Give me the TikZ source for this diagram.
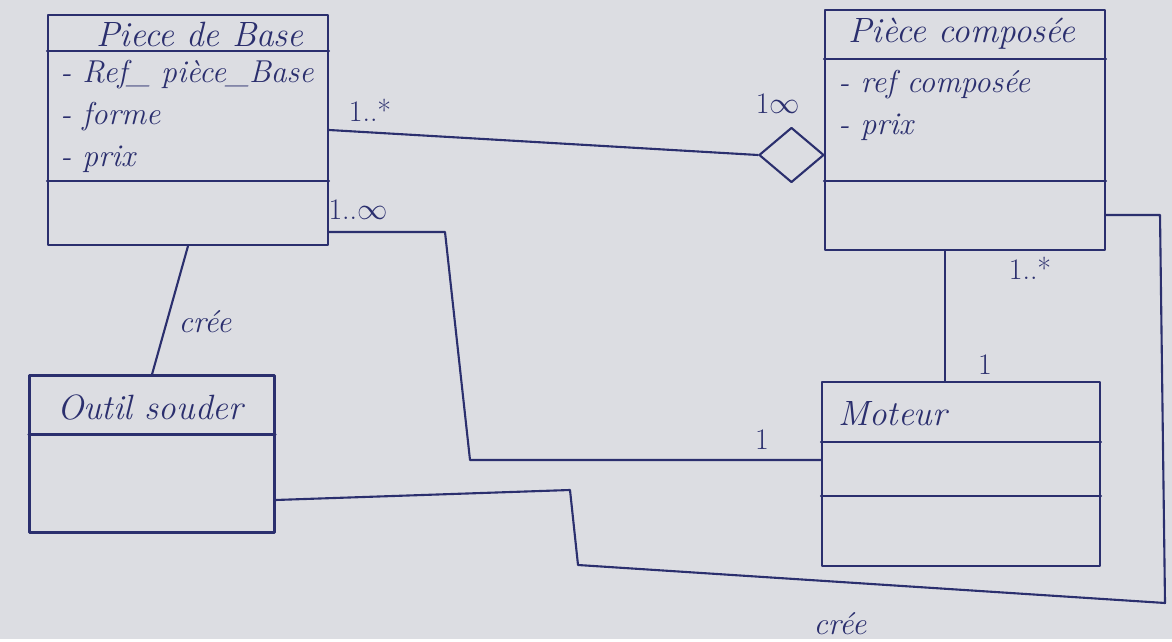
\documentclass[tikz,border=0pt]{standalone}
\usetikzlibrary{positioning,shapes.geometric,calc}
\definecolor{inkblue}{HTML}{2B2F6E}
\definecolor{paper}{HTML}{DCDDE2}

\begin{document}
\begin{tikzpicture}[
		x=0.02cm, y=-0.02cm,
		every node/.style={font=\itshape\fontsize{18}{24}\selectfont, text=inkblue},
		line/.style={draw=inkblue, line width=1.2pt, line cap=round, line join=round},
		classbox/.style={
			line,
			rectangle,
			inner sep=0pt
		},
		agg/.style={
			line,
			diamond,
			inner sep=0pt,
			minimum width=1.3cm,
			minimum height=1.1cm,
			fill=paper
		},
		title/.style={font=\itshape\fontsize{20}{24}\selectfont},
		attrs/.style={align=left, anchor=north west, inner sep=0pt},
		mult/.style={font=\fontsize{17}{20}\selectfont}
	]
		\fill[paper] (0,0) rectangle (1172,639);

		% classes
		\node[classbox, minimum width=5.6cm, minimum height=4.6cm] (base) at (188,130) {};
		\node[classbox, minimum width=5.6cm, minimum height=4.8cm] (composite) at (965,130) {};
		\node[classbox, minimum width=4.9cm, minimum height=3.14cm] (tool) at (152,454) {};
		\node[classbox, minimum width=5.56cm, minimum height=3.68cm] (engine) at (961,474) {};
		\coordinate (a0) at (825,155);
		\node[agg, anchor=east] (diamond) at (a0) {};

		% compartments
		\draw[line] ($(base.north west)+(0,37)$) -- ($(base.north east)+(0,37)$);
		\draw[line] ($(base.north west)+(0,167)$) -- ($(base.north east)+(0,167)$);
		\draw[line] ($(composite.north west)+(0,50)$) -- ($(composite.north east)+(0,50)$);
		\draw[line] ($(composite.north west)+(0,172)$) -- ($(composite.north east)+(0,172)$);
		\draw[line] ($(tool.north west)+(0,60)$) -- ($(tool.north east)+(0,60)$);
		\draw[line] ($(engine.north west)+(0,61)$) -- ($(engine.north east)+(0,61)$);
		\draw[line] ($(engine.north west)+(0,115)$) -- ($(engine.north east)+(0,115)$);

		% texts
		\node[title] (base-title) at (200,34) {Piece de Base};
		\node[attrs] (base-attrs) at (60,60)
			{- Ref\_ pièce\_Base\\- forme\\- prix};
		\node[title] (composite-title) at (962,34) {Pièce composée};
		\node[attrs] (composite-attrs) at (838,70)
			{- ref composée\\- prix};
		\node[title] (tool-title) at (150,408) {Outil souder};
		\node[title, anchor=west] (engine-title) at (832,414) {Moteur};

		% associations
		\draw[line] (base.east) -- (diamond.west);
		\coordinate (b1) at (445,232);
		\coordinate (b2) at (470,460);
		\draw[line] (base.east |- b1) -- (b1) -- (b2) -- (engine.west |- b2);
		\draw[line] (base.south) -- (tool.north);
		\coordinate (c0) at (275,500);
		\coordinate (c1) at (570,490);
		\coordinate (c2) at (578,565);
		\coordinate (c3) at (1165,603);
		\coordinate (c4) at (1160,215);
		\draw[line] (tool.east |- c0) -- (c1) -- (c2) -- (c3) -- (c4) -- (composite.east |- c4);
		\coordinate (d1) at (945,250);
		\draw[line] (composite.south -| d1) -- (engine.north -| d1);

		% multiplicities and roles
		\node[mult] (m-base-agg) at (370,110) {1..*};
		\node[mult] (m-agg) at (778,104) {1$\infty$};
		\node[mult] (m-base-engine) at (358,210) {1..$\infty$};
		\node[mult] (m-engine-left) at (762,440) {1};
		\node[mult] (m-composite) at (1030,268) {1..*};
		\node[mult] (m-engine-top) at (985,365) {1};
		\node (role-tool) at (205,322) {crée};
		\node (role-bottom) at (840,624) {crée};
	\end{tikzpicture}
\end{document}
